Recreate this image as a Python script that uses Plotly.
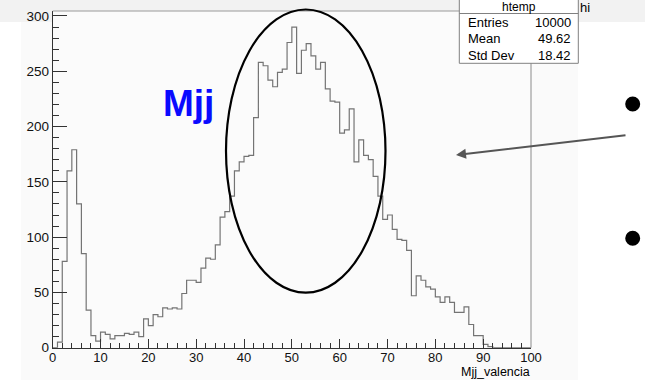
import numpy as np
import plotly.graph_objects as go

# Histogram "htemp": 100 bins on [0, 100]
bin_low, bin_high, n_bins = 0.0, 100.0, 100
counts = [
    0, 5, 78, 160, 179, 130, 85, 34, 11, 6,
    14, 12, 8, 11, 11, 13, 12, 14, 10, 26,
    20, 30, 28, 36, 35, 36, 35, 49, 61, 61,
    59, 72, 81, 80, 93, 118, 123, 137, 160, 168,
    173, 174, 208, 258, 255, 242, 236, 249, 252, 276,
    290, 248, 269, 275, 264, 252, 258, 234, 223, 222,
    194, 197, 216, 168, 188, 174, 170, 155, 137, 116,
    120, 107, 98, 97, 88, 47, 65, 61, 55, 53,
    46, 41, 46, 41, 32, 32, 37, 21, 11, 11,
    3, 1, 0, 0, 0, 0, 0, 0, 0, 0,
]
x_ticks = [0, 10, 20, 30, 40, 50, 60, 70, 80, 90, 100]
y_ticks = [0, 50, 100, 150, 200, 250, 300]
stats_rows = [("Entries", "10000"), ("Mean", "49.62"), ("Std Dev", "18.42")]
hist_name = "htemp"
x_title = "Mjj_valencia"
label_text = "Mjj"

W, H = 645, 380
FONT = "Liberation Sans, Arial, Helvetica, sans-serif"


def px(x):
    return x / W


def py(y):
    return 1 - y / H


edges = np.linspace(bin_low, bin_high, n_bins + 1)
heights = list(counts) + [counts[-1]]
y_max = max(counts) * 1.05

fig = go.Figure()
fig.add_trace(go.Scatter(
    x=edges, y=heights, mode="lines",
    line=dict(shape="hv", color="#747474", width=1.2),
    hoverinfo="skip", showlegend=False, cliponaxis=False,
))

axis_common = dict(
    showline=True, linecolor="#333333", linewidth=1,
    ticks="inside", tickcolor="#333333", tickwidth=1,
    showgrid=False, zeroline=False, automargin=False,
)

fig.update_layout(
    width=W, height=H,
    margin=dict(l=0, r=0, t=0, b=0, autoexpand=False),
    paper_bgcolor="white",
    plot_bgcolor="rgba(0,0,0,0)",
    xaxis=dict(
        domain=[px(52.7), px(531)], range=[bin_low, bin_high],
        tickmode="array", tickvals=x_ticks, ticktext=[str(v) for v in x_ticks],
        ticklen=9, ticklabelstandoff=-2,
        tickfont=dict(family=FONT, size=13, color="#111111"),
        minor=dict(ticks="inside", ticklen=4.5, dtick=2, tickcolor="#333333", showgrid=False),
        **axis_common,
    ),
    yaxis=dict(
        domain=[py(347.7), py(11)], range=[0, y_max],
        tickmode="array", tickvals=y_ticks, ticktext=[str(v) for v in y_ticks],
        ticklen=14,
        tickfont=dict(family=FONT, size=13.5, color="#111111"),
        minor=dict(ticks="inside", ticklen=6.5, dtick=10, tickcolor="#333333", showgrid=False),
        **axis_common,
    ),
)

shapes = [
    # slide header band and canvas
    dict(type="rect", xref="paper", yref="paper", x0=0, x1=1, y0=py(22), y1=1,
         fillcolor="#f2f2f2", line=dict(width=0), layer="below"),
    dict(type="rect", xref="paper", yref="paper", x0=px(21), x1=px(578), y0=0, y1=py(22),
         fillcolor="#fafafa", line=dict(width=0), layer="below"),
    dict(type="rect", xref="paper", yref="paper", x0=px(52.7), x1=px(531), y0=py(347.7), y1=py(11),
         fillcolor="#fbfbfb", line=dict(width=0), layer="below"),
    # frame top and right edges
    dict(type="line", xref="paper", yref="paper", x0=px(52.7), x1=px(531), y0=py(11), y1=py(11),
         line=dict(color="#9a9a9a", width=1)),
    dict(type="line", xref="paper", yref="paper", x0=px(531), x1=px(531), y0=py(347.7), y1=py(11),
         line=dict(color="#8a8a8a", width=1)),
    # highlight ellipse
    dict(type="circle", xref="paper", yref="paper", x0=px(226), x1=px(385.5), y0=py(292.7), y1=py(9.5),
         line=dict(color="black", width=2.2)),
    # stats box
    dict(type="rect", xref="paper", yref="paper", x0=px(459.3), x1=px(578.3), y0=py(63.3), y1=py(-3),
         fillcolor="white", line=dict(color="#808080", width=1)),
    dict(type="line", xref="paper", yref="paper", x0=px(459.3), x1=px(578.3), y0=py(13.5), y1=py(13.5),
         line=dict(color="#808080", width=1)),
    # bullets
    dict(type="circle", xref="paper", yref="paper", x0=px(625.2), x1=px(640.2), y0=py(111.5), y1=py(96.5),
         fillcolor="black", line=dict(width=0)),
    dict(type="circle", xref="paper", yref="paper", x0=px(625.2), x1=px(640.2), y0=py(245.8), y1=py(230.8),
         fillcolor="black", line=dict(width=0)),
]
fig.update_layout(shapes=shapes)

annotations = [
    dict(text=hist_name, x=px(518.8), y=py(6.8), xanchor="center", yanchor="middle",
         font=dict(family=FONT, size=12, color="black"), borderpad=0),
    dict(text="hi", x=px(578.5), y=py(7.5), xanchor="left", yanchor="middle",
         font=dict(family=FONT, size=13, color="black"), borderpad=0),
    dict(text=f"<b>{label_text}</b>", x=px(188), y=py(104), xanchor="center", yanchor="middle",
         font=dict(family=FONT, size=37, color="#0a0aff")),
    dict(text=x_title, x=px(531), y=py(372.3), xanchor="right", yanchor="middle",
         font=dict(family=FONT, size=12.5, color="black"), borderpad=0),
    dict(text="", x=px(456), y=py(155), ax=171, ay=-20, showarrow=True,
         arrowhead=2, arrowsize=1, arrowwidth=2, arrowcolor="#555555"),
]
for i, (name, val) in enumerate(stats_rows):
    yy = 22.5 + i * 16.4
    annotations.append(dict(text=name, x=px(466), y=py(yy), xanchor="left", yanchor="middle",
                            font=dict(family=FONT, size=13, color="black")))
    annotations.append(dict(text=val, x=px(572.5), y=py(yy), xanchor="right", yanchor="middle",
                            font=dict(family=FONT, size=13, color="black")))
for a in annotations:
    a.setdefault("xref", "paper")
    a.setdefault("yref", "paper")
    a.setdefault("showarrow", False)
fig.update_layout(annotations=annotations)

fig.write_html("out.html")
